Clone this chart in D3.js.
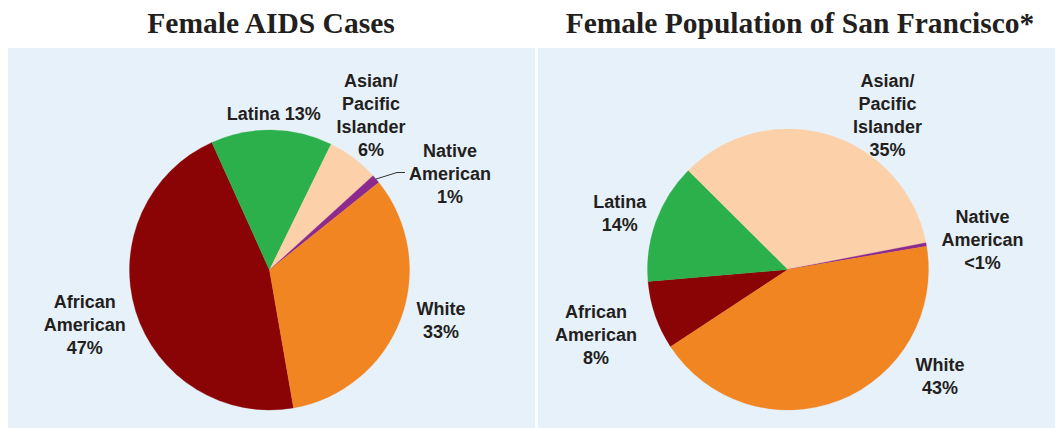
<!DOCTYPE html>
<html>
<head>
<meta charset="utf-8">
<script src="https://cdn.jsdelivr.net/npm/d3@7"></script>
<style>
  html, body { margin: 0; padding: 0; background: #ffffff; }
  svg { display: block; }
</style>
</head>
<body>
<svg id="chart" width="1055" height="428"></svg>
<script>
// ---- data ----
const categories = ["African American", "Latina", "Asian/Pacific Islander", "Native American", "White"];
const aidsValues = [46, 14, 6, 1, 33];
const popValues = [7.9, 13.8, 34.5, 0.4, 43.4];
const aidsLabels = [["African", "American", "47%"], ["Latina 13%"], ["Asian/", "Pacific", "Islander", "6%"], ["Native", "American", "1%"], ["White", "33%"]];
const popLabels = [["African", "American", "8%"], ["Latina", "14%"], ["Asian/", "Pacific", "Islander", "35%"], ["Native", "American", "<1%"], ["White", "43%"]];
const titles = ["Female AIDS Cases", "Female Population of San Francisco*"];

// ---- layout / style ----
const colors = ["#8b0405", "#2cb04b", "#fcd0a8", "#8d2a8d", "#f08522"];
const textColor = "#231f20";
const panelFill = "#e7f1fa";
const lineH = 23;

const panels = [
  { x0: 8, x1: 535, titleX: 271, cx: 269.5, cy: 270, r: 140, start: 170.1, values: aidsValues, labels: aidsLabels,
    labelPos: [[-184.8, 38], [4.3, -150.5], [101.5, -183.5], [180.5, -113.5], [171.5, 44.5]],
    leader: 3 },
  { x0: 538, x1: 1055, titleX: 800, cx: 788, cy: 269.5, r: 140.5, start: 236.7, values: popValues, labels: popLabels,
    labelPos: [[-192, 48.8], [-168.3, -61.2], [99.5, -182.8], [194.5, -46.2], [152, 101]],
    leader: -1 }
];

const svg = d3.select("#chart");
const color = d3.scaleOrdinal().domain(categories).range(colors);

panels.forEach((p, pi) => {
  svg.append("rect")
    .attr("x", p.x0).attr("y", 48)
    .attr("width", p.x1 - p.x0).attr("height", 428 - 48)
    .attr("fill", panelFill);

  svg.append("text")
    .attr("x", p.titleX).attr("y", 33)
    .attr("text-anchor", "middle")
    .attr("font-family", "'Liberation Serif', 'Times New Roman', serif")
    .attr("font-weight", "bold")
    .attr("font-size", 29.5)
    .attr("fill", textColor)
    .text(titles[pi]);

  const startRad = p.start * Math.PI / 180;
  const pie = d3.pie().sort(null).value(d => d.v)
    .startAngle(startRad).endAngle(startRad + 2 * Math.PI);
  const data = pie(categories.map((c, i) => ({ c, v: p.values[i], i })));
  const arc = d3.arc().innerRadius(0).outerRadius(p.r);

  const g = svg.append("g").attr("transform", `translate(${p.cx},${p.cy})`);
  g.selectAll("path").data(data).enter().append("path")
    .attr("d", arc)
    .attr("fill", d => color(d.data.c))
    .attr("stroke", d => color(d.data.c))
    .attr("stroke-width", 0.3);

  // labels
  data.forEach((d, i) => {
    const [lx, ly] = p.labelPos[i];
    const t = g.append("text")
      .attr("text-anchor", "middle")
      .attr("font-family", "'Liberation Sans', Arial, Helvetica, sans-serif")
      .attr("font-weight", "bold")
      .attr("font-size", 18)
      .attr("fill", textColor);
    p.labels[i].forEach((line, k) => {
      t.append("tspan").attr("x", lx).attr("y", ly + k * lineH).text(line);
    });
  });

  // leader line
  if (p.leader >= 0) {
    const d = data[p.leader];
    const mid = (d.startAngle + d.endAngle) / 2;
    const sx = Math.sin(mid) * p.r, sy = -Math.cos(mid) * p.r;
    const [lx, ly] = p.labelPos[p.leader];
    const ex = lx - 45, ey = ly + lineH - 7;
    g.append("polyline")
      .attr("points", [[sx, sy], [ex - 8, ey], [ex, ey]].map(q => q.join(",")).join(" "))
      .attr("fill", "none")
      .attr("stroke", "#333333")
      .attr("stroke-width", 1);
  }
});
</script>
</body>
</html>
